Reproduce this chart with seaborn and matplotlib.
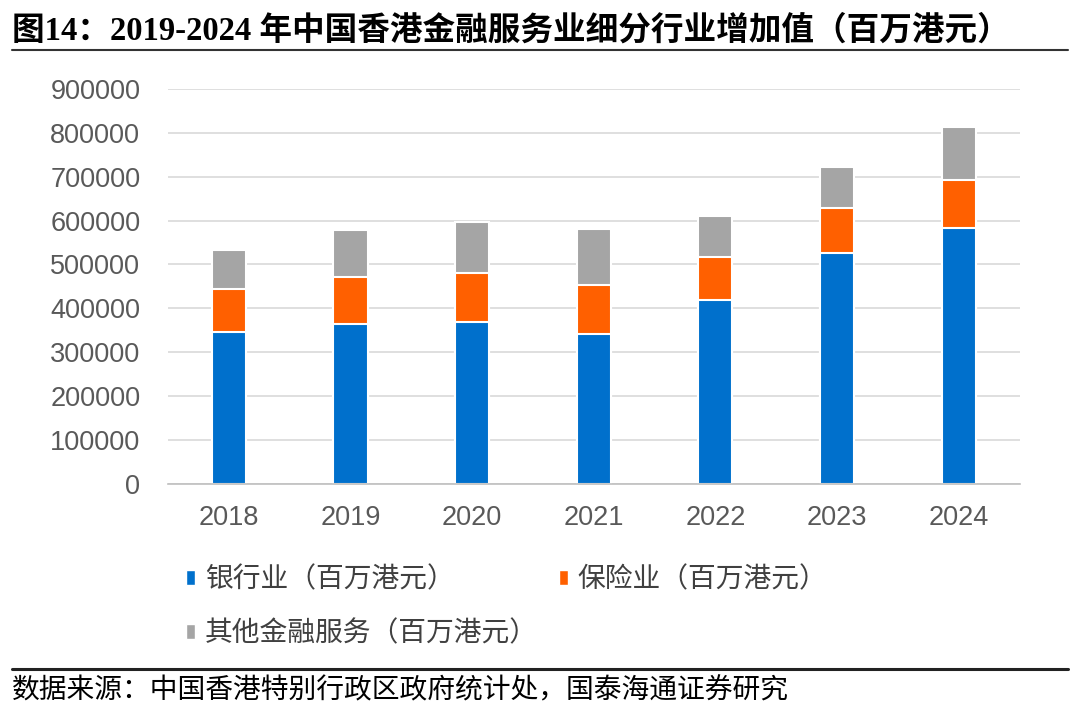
import numpy as np
import pandas as pd
import matplotlib
matplotlib.use('Agg')
import matplotlib.pyplot as plt
import seaborn as sns
from matplotlib.patches import Patch
from matplotlib.lines import Line2D

# data (million HKD)
years = ['2018', '2019', '2020', '2021', '2022', '2023', '2024']
banking = [347000, 365000, 368000, 342000, 420000, 527000, 584000]
insurance = [97000, 107000, 112000, 112000, 98000, 101000, 109000]
other_fin = [89000, 107000, 117000, 127000, 92000, 94000, 121000]
series_names = ['银行业（百万港元）', '保险业（百万港元）', '其他金融服务（百万港元）']
colors = ['#0070CC', '#FF6000', '#A5A5A5']

sns.set_style('white')
plt.rcParams['font.family'] = ['Liberation Sans', 'Noto Sans CJK SC', 'DejaVu Sans']
cjk = ['Noto Sans CJK SC', 'DejaVu Sans']

df = pd.DataFrame({'year': years, 'bank': banking, 'ins': insurance, 'other': other_fin})
df['lvl1'] = df['bank']
df['lvl2'] = df['bank'] + df['ins']
df['lvl3'] = df['lvl2'] + df['other']

fig = plt.figure(figsize=(10.8, 7.1), dpi=100)
ax = fig.add_axes([0.1556, 0.3187, 0.7884, 0.5559])

# stacked look: draw cumulative totals from top layer down
for col, c in zip(['lvl3', 'lvl2', 'lvl1'], colors[::-1]):
    sns.barplot(data=df, x='year', y=col, color=c, width=0.28, ax=ax,
                edgecolor='white', linewidth=1.5, saturation=1, errorbar=None)

ax.set_ylim(0, 900000)
ax.set_yticks(np.arange(0, 900001, 100000))
ax.set_yticklabels([str(v) for v in range(0, 900001, 100000)])
ax.yaxis.grid(True, color='#D9D9D9', linewidth=1.2)
ax.set_axisbelow(True)
for s in ['top', 'right', 'left']:
    ax.spines[s].set_visible(False)
ax.spines['bottom'].set_color('#BFBFBF')
ax.spines['bottom'].set_linewidth(1.2)
ax.tick_params(axis='both', length=0, labelsize=19.5, colors='#595959')
ax.tick_params(axis='x', pad=15)
ax.tick_params(axis='y', pad=20)
ax.set_xlabel('')
ax.set_ylabel('')

handles = [Patch(facecolor=colors[0]), Patch(facecolor=colors[2]), Patch(facecolor=colors[1])]
labels = [series_names[0], series_names[2], series_names[1]]
leg = fig.legend(handles, labels, ncol=2, loc='upper left', bbox_to_anchor=(0.149, 0.240),
                 frameon=False, handlelength=0.33, handleheight=0.48, handletextpad=0.35,
                 columnspacing=0.75, labelspacing=0.85, prop={'family': cjk, 'size': 20})
for t in leg.get_texts():
    t.set_color('#404040')

# title and source
fig.text(0.011, 0.957, '图14：2019-2024 年中国香港金融服务业细分行业增加值（百万港元）',
         family=['Liberation Serif', 'Noto Sans CJK SC'], fontweight='bold', fontsize=23.5,
         va='center', ha='left', color='black')
fig.add_artist(Line2D([0.011, 0.989], [0.929, 0.929], color='#333333', linewidth=1.5))
fig.add_artist(Line2D([0.011, 0.989], [0.058, 0.058], color='#222222', linewidth=2.2))
fig.text(0.011, 0.028, '数据来源：中国香港特别行政区政府统计处，国泰海通证券研究',
         family=cjk, fontsize=20, va='center', ha='left', color='black')

fig.savefig('out.png', dpi=100)
